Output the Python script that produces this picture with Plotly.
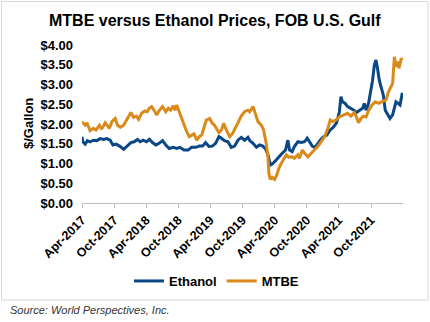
import plotly.graph_objects as go

# ---------------- data ----------------
mtbe_dates = [
    "2017-04-01", "2017-04-19", "2017-04-29", "2017-05-17", "2017-06-05", "2017-06-20", "2017-07-09",
    "2017-07-22", "2017-08-11", "2017-08-24", "2017-09-04", "2017-09-18", "2017-10-07", "2017-10-20",
    "2017-11-05", "2017-11-24", "2017-12-12", "2018-01-04", "2018-01-19", "2018-02-04", "2018-02-17",
    "2018-03-06", "2018-03-25", "2018-04-07", "2018-04-19", "2018-05-02", "2018-05-21", "2018-05-31",
    "2018-06-14", "2018-07-03", "2018-07-22", "2018-08-05", "2018-08-18", "2018-09-02", "2018-09-12",
    "2018-09-22", "2018-10-06", "2018-10-20", "2018-11-02", "2018-11-17", "2018-12-02", "2018-12-15",
    "2018-12-29", "2019-01-14", "2019-01-28", "2019-02-11", "2019-02-24", "2019-03-09", "2019-03-28",
    "2019-04-12", "2019-04-25", "2019-05-05", "2019-05-20", "2019-06-03", "2019-06-16", "2019-07-01",
    "2019-07-20", "2019-08-04", "2019-08-17", "2019-09-05", "2019-09-24", "2019-10-13", "2019-11-01",
    "2019-11-11", "2019-11-30", "2019-12-15", "2019-12-28", "2020-01-16", "2020-01-29", "2020-02-13",
    "2020-02-23", "2020-02-28", "2020-03-07", "2020-03-18", "2020-04-01", "2020-04-13", "2020-04-25",
    "2020-05-08", "2020-05-21", "2020-06-06", "2020-06-20", "2020-07-09", "2020-07-22", "2020-08-11",
    "2020-08-20", "2020-09-05", "2020-09-18", "2020-10-07", "2020-10-26", "2020-11-14", "2020-12-02",
    "2020-12-21", "2021-01-10", "2021-01-29", "2021-02-11", "2021-02-26", "2021-03-15", "2021-04-04",
    "2021-05-02", "2021-05-21", "2021-06-09", "2021-06-28", "2021-07-10", "2021-07-22", "2021-08-05",
    "2021-08-18", "2021-09-03", "2021-09-17", "2021-10-07", "2021-10-25", "2021-11-13", "2021-12-02",
    "2021-12-25", "2022-01-09", "2022-01-23", "2022-02-01", "2022-02-11", "2022-02-20", "2022-03-01",
    "2022-03-09", "2022-03-22", "2022-03-28",
]
mtbe_values = [
    2.06, 1.97, 2.03, 1.83, 1.89, 1.85, 1.97,
    1.87, 2.03, 1.95, 1.89, 2.06, 2.14, 1.97,
    1.92, 1.97, 2.10, 2.29, 2.17, 2.20, 2.12,
    2.27, 2.33, 2.31, 2.40, 2.44, 2.31, 2.23,
    2.34, 2.44, 2.31, 2.40, 2.35, 2.46, 2.35,
    2.48, 2.31, 2.14, 1.97, 1.81, 1.68, 1.72,
    1.75, 1.59, 1.68, 1.72, 1.89, 2.10, 2.14,
    2.02, 1.97, 1.89, 1.78, 1.85, 2.02, 1.85,
    1.68, 1.75, 1.85, 2.03, 2.20, 2.31, 2.35,
    2.31, 2.44, 2.25, 2.06, 1.97, 1.85, 1.51,
    1.17, 0.75, 0.60, 0.65, 0.60, 0.71, 0.88,
    1.00, 1.09, 1.22, 1.16, 1.17, 1.13, 1.22,
    1.13, 1.34, 1.26, 1.17, 1.26, 1.34, 1.43,
    1.55, 1.68, 1.89, 2.10, 2.06, 2.10, 2.18,
    2.23, 2.27, 2.20, 2.29, 2.18, 2.03, 2.14,
    2.20, 2.18, 2.34, 2.48, 2.56, 2.52, 2.56,
    2.61, 2.82, 2.94, 3.03, 3.70, 3.45, 3.58,
    3.41, 3.66, 3.62,
]

ethanol_dates = [
    "2017-04-01", "2017-04-06", "2017-04-19", "2017-05-02", "2017-05-17", "2017-06-05", "2017-06-24",
    "2017-07-13", "2017-08-01", "2017-08-20", "2017-09-08", "2017-09-24", "2017-10-12", "2017-11-01",
    "2017-11-24", "2017-12-12", "2018-01-04", "2018-01-23", "2018-02-11", "2018-02-26", "2018-03-15",
    "2018-04-03", "2018-04-19", "2018-05-07", "2018-05-26", "2018-06-14", "2018-07-03", "2018-07-22",
    "2018-08-10", "2018-09-02", "2018-09-22", "2018-10-10", "2018-11-02", "2018-11-26", "2018-12-15",
    "2019-01-09", "2019-01-28", "2019-02-16", "2019-03-05", "2019-03-24", "2019-04-12", "2019-05-01",
    "2019-05-20", "2019-06-03", "2019-06-21", "2019-07-10", "2019-07-29", "2019-08-17", "2019-09-05",
    "2019-09-24", "2019-10-13", "2019-11-01", "2019-11-11", "2019-11-30", "2019-12-19", "2020-01-06",
    "2020-01-25", "2020-02-10", "2020-02-23", "2020-03-07", "2020-03-21", "2020-04-06", "2020-04-25",
    "2020-05-14", "2020-06-02", "2020-06-15", "2020-06-25", "2020-07-09", "2020-07-22", "2020-08-11",
    "2020-08-30", "2020-09-18", "2020-10-03", "2020-10-16", "2020-11-01", "2020-11-14", "2020-11-27",
    "2020-12-16", "2021-01-04", "2021-01-23", "2021-02-11", "2021-03-01", "2021-03-19", "2021-04-04",
    "2021-04-13", "2021-04-22", "2021-05-07", "2021-05-21", "2021-06-09", "2021-06-28", "2021-07-10",
    "2021-07-26", "2021-08-14", "2021-08-24", "2021-09-03", "2021-09-17", "2021-10-01", "2021-10-10",
    "2021-10-20", "2021-10-29", "2021-11-07", "2021-11-17", "2021-11-27", "2021-12-10", "2021-12-21",
    "2022-01-04", "2022-01-17", "2022-02-01", "2022-02-11", "2022-02-20", "2022-03-04", "2022-03-15",
    "2022-03-28",
]
ethanol_values = [
    1.68, 1.55, 1.49, 1.58, 1.55, 1.59, 1.58,
    1.63, 1.61, 1.63, 1.59, 1.47, 1.49, 1.44,
    1.36, 1.44, 1.53, 1.55, 1.61, 1.55, 1.59,
    1.55, 1.61, 1.53, 1.47, 1.51, 1.58, 1.47,
    1.38, 1.41, 1.38, 1.41, 1.34, 1.34, 1.41,
    1.41, 1.44, 1.44, 1.53, 1.43, 1.44, 1.51,
    1.68, 1.64, 1.58, 1.55, 1.41, 1.44, 1.59,
    1.66, 1.59, 1.66, 1.58, 1.51, 1.41, 1.47,
    1.44, 1.36, 1.22, 0.96, 1.00, 1.07, 1.17,
    1.26, 1.34, 1.59, 1.34, 1.30, 1.43, 1.55,
    1.53, 1.55, 1.64, 1.55, 1.44, 1.41, 1.47,
    1.59, 1.68, 1.72, 1.85, 1.92, 2.03, 2.31,
    2.69, 2.56, 2.52, 2.44, 2.40, 2.34, 2.29,
    2.35, 2.40, 2.52, 2.35, 2.52, 2.86, 3.11,
    3.49, 3.62, 3.41, 3.11, 2.94, 2.73, 2.35,
    2.23, 2.14, 2.23, 2.40, 2.56, 2.52, 2.48,
    2.79,
]

x_tick_vals = ["2017-04-01", "2017-10-01", "2018-04-01", "2018-10-01", "2019-04-01",
               "2019-10-01", "2020-04-01", "2020-10-01", "2021-04-01", "2021-10-01"]
x_tick_text = ["Apr-2017", "Oct-2017", "Apr-2018", "Oct-2018", "Apr-2019",
               "Oct-2019", "Apr-2020", "Oct-2020", "Apr-2021", "Oct-2021"]
y_tick_vals = [0, 0.5, 1.0, 1.5, 2.0, 2.5, 3.0, 3.5, 4.0]
y_tick_text = ["$0.00", "$0.50", "$1.00", "$1.50", "$2.00", "$2.50", "$3.00", "$3.50", "$4.00"]

# ---------------- figure ----------------
W, H = 430, 322
L, R, T, B = 82, 27, 45, 119
pw = W - L - R
ph = H - T - B

BLUE = "#0B4786"
ORANGE = "#D98A1A"
FONT = "Liberation Sans, Arial, sans-serif"

fig = go.Figure()
fig.add_trace(go.Scatter(x=ethanol_dates, y=ethanol_values, name="Ethanol", mode="lines",
                         line=dict(color=BLUE, width=3)))
fig.add_trace(go.Scatter(x=mtbe_dates, y=mtbe_values, name="MTBE", mode="lines",
                         line=dict(color=ORANGE, width=3)))

fig.update_layout(
    width=W, height=H,
    margin=dict(l=L, r=R, t=T, b=B, pad=0),
    paper_bgcolor="white", plot_bgcolor="white",
    font=dict(family=FONT, color="#000000"),
    showlegend=True,
    legend=dict(orientation="h", x=(216.5 - L) / pw, xanchor="center",
                y=(H - B - 281) / ph, yanchor="middle",
                font=dict(size=13, family=FONT, weight="bold"),
                itemwidth=30, tracegroupgap=0, bgcolor="rgba(0,0,0,0)"),
    xaxis=dict(type="date", range=["2017-04-01", "2022-04-01"],
               tickmode="array", tickvals=x_tick_vals, ticktext=x_tick_text,
               tickangle=-45, tickfont=dict(size=12.5, family=FONT, weight="bold", color="#000"),
               showline=True, linecolor="#bfbfbf", linewidth=1,
               ticks="outside", ticklen=4, tickcolor="#bfbfbf",
               showgrid=False, zeroline=False, fixedrange=True),
    yaxis=dict(range=[0, 4], tickmode="array", tickvals=y_tick_vals, ticktext=y_tick_text,
               tickfont=dict(size=13, family=FONT, weight="bold", color="#000"),
               showline=False, ticks="", ticklabelstandoff=8,
               showgrid=False, zeroline=False, fixedrange=True),
    shapes=[dict(type="rect", xref="paper", yref="paper",
                 x0=(1.5 - L) / pw, x1=(428 - L) / pw,
                 y0=(H - B - 300) / ph, y1=(H - B - 1.5) / ph,
                 line=dict(color="#d9d9d9", width=1), layer="below")],
    annotations=[
        dict(text="<b>MTBE versus Ethanol Prices, FOB U.S. Gulf</b>", xref="paper", yref="paper",
             x=(215 - L) / pw, y=(H - B - 20) / ph, xanchor="center", yanchor="middle",
             showarrow=False, font=dict(size=16, family=FONT, color="#000")),
        dict(text="<b>$/Gallon</b>", xref="paper", yref="paper", textangle=-90,
             x=(28 - L) / pw, y=0.5, xanchor="center", yanchor="middle",
             showarrow=False, font=dict(size=13, family=FONT, color="#000")),
        dict(text="<i>Source: World Perspectives, Inc.</i>", xref="paper", yref="paper",
             x=(8 - L) / pw, y=(H - B - 310) / ph, xanchor="left", yanchor="middle",
             showarrow=False, font=dict(size=11, family=FONT, color="#333333")),
    ],
)

fig.write_html("out.html")
